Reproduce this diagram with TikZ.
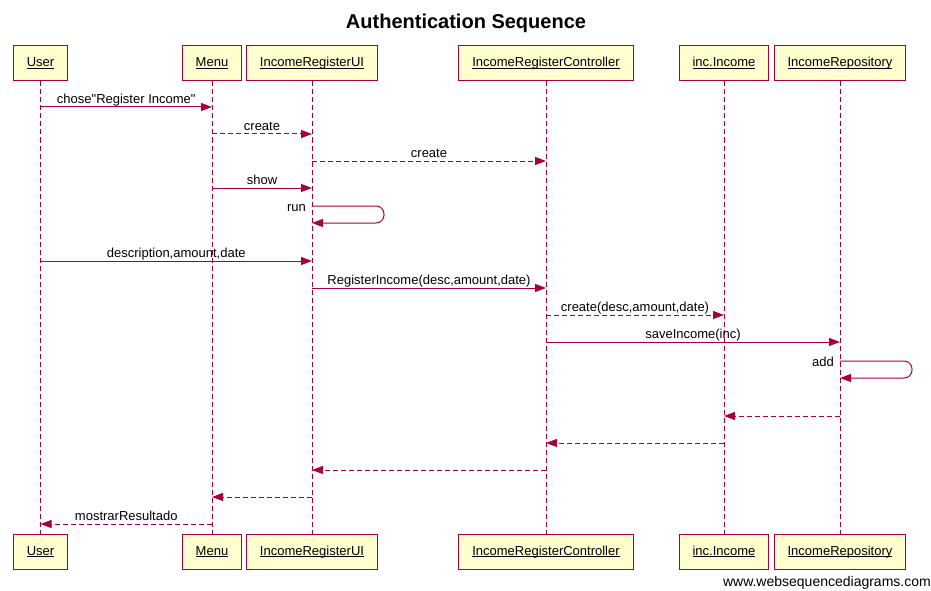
\documentclass[tikz,border=0pt]{standalone}
\usepackage{fontspec}
\setmainfont{Liberation Sans}[Ligatures=TeXOff]
\usetikzlibrary{arrows.meta}
\definecolor{wsdred}{HTML}{A80036}
\definecolor{wsdfill}{HTML}{FEFECE}
\newcommand{\actname}[1]{\underline{\smash{#1}}}

\begin{document}
\begin{tikzpicture}[x=1pt, y=-1pt,
    actor/.style={draw=wsdred, fill=wsdfill, line width=1pt, minimum height=35pt, inner xsep=13.5pt, text height=9.5pt, text depth=3pt, font=\fontsize{13}{15}\selectfont},
    life/.style={draw=wsdred, line width=1pt, dash pattern=on 5pt off 3pt},
    msg/.style={draw=wsdred, line width=1pt, -{Triangle[length=11pt, width=8pt]}},
    ret/.style={msg, dash pattern=on 5pt off 3pt},
    lbl/.style={above, inner sep=1pt, text depth=2pt, font=\fontsize{13}{15}\selectfont}]
    \useasboundingbox (0,0) rectangle (931,591);

    \node[font=\fontsize{20}{24}\selectfont\bfseries] (title) at (466,23) {Authentication Sequence};

    % participants, top and bottom
    \node[actor] (user) at (40.5,63.5) {\actname{User}};
    \node[actor] (menu) at (212,63.5) {\actname{Menu}};
    \node[actor] (ui) at (312,63.5) {\actname{IncomeRegisterUI}};
    \node[actor] (ctrl) at (546,63.5) {\actname{IncomeRegisterController}};
    \node[actor] (inc) at (724,63.5) {\actname{inc.Income}};
    \node[actor] (repo) at (840,63.5) {\actname{IncomeRepository}};

    \node[actor] (userB) at (40.5,552) {\actname{User}};
    \node[actor] (menuB) at (212,552) {\actname{Menu}};
    \node[actor] (uiB) at (312,552) {\actname{IncomeRegisterUI}};
    \node[actor] (ctrlB) at (546,552) {\actname{IncomeRegisterController}};
    \node[actor] (incB) at (724,552) {\actname{inc.Income}};
    \node[actor] (repoB) at (840,552) {\actname{IncomeRepository}};

    \foreach \p in {user,menu,ui,ctrl,inc,repo}
        \draw[life] (\p.south) -- (\p B.north);

    % messages
    \draw[msg] (user |- 0,107) -- node[lbl] (m1) {chose"Register Income"} (menu |- 0,107);
    \draw[ret] (menu |- 0,134) -- node[lbl] (m2) {create} (ui |- 0,134);
    \draw[ret] (ui |- 0,161) -- node[lbl] (m3) {create} (ctrl |- 0,161);
    \draw[msg] (menu |- 0,188) -- node[lbl] (m4) {show} (ui |- 0,188);
    \draw[msg, rounded corners=8pt] (ui |- 0,206) -- ++(72,0) |- (ui |- 0,223);
    \node[lbl, anchor=base east] (m5) at ([xshift=-5pt]ui |- 0,211) {run};
    \draw[msg] (user |- 0,261) -- node[lbl] (m6) {description,amount,date} (ui |- 0,261);
    \draw[msg] (ui |- 0,288) -- node[lbl] (m7) {RegisterIncome(desc,amount,date)} (ctrl |- 0,288);
    \draw[ret] (ctrl |- 0,315) -- node[lbl] (m8) {create(desc,amount,date)} (inc |- 0,315);
    \draw[msg] (ctrl |- 0,342) -- node[lbl] (m9) {saveIncome(inc)} (repo |- 0,342);
    \draw[msg, rounded corners=8pt] (repo |- 0,361) -- ++(72,0) |- (repo |- 0,378);
    \node[lbl, anchor=base east] (m10) at ([xshift=-5pt]repo |- 0,366) {add};

    % returns
    \draw[ret] (repo |- 0,416) -- (inc |- 0,416);
    \draw[ret] (inc |- 0,443) -- (ctrl |- 0,443);
    \draw[ret] (ctrl |- 0,470) -- (ui |- 0,470);
    \draw[ret] (ui |- 0,497) -- (menu |- 0,497);
    \draw[ret] (menu |- 0,524) -- node[lbl] (m11) {mostrarResultado} (user |- 0,524);

    \node[anchor=east, inner sep=0pt, font=\fontsize{14}{16}\selectfont] (wsd) at (931,583) {www.websequencediagrams.com};
\end{tikzpicture}
\end{document}
